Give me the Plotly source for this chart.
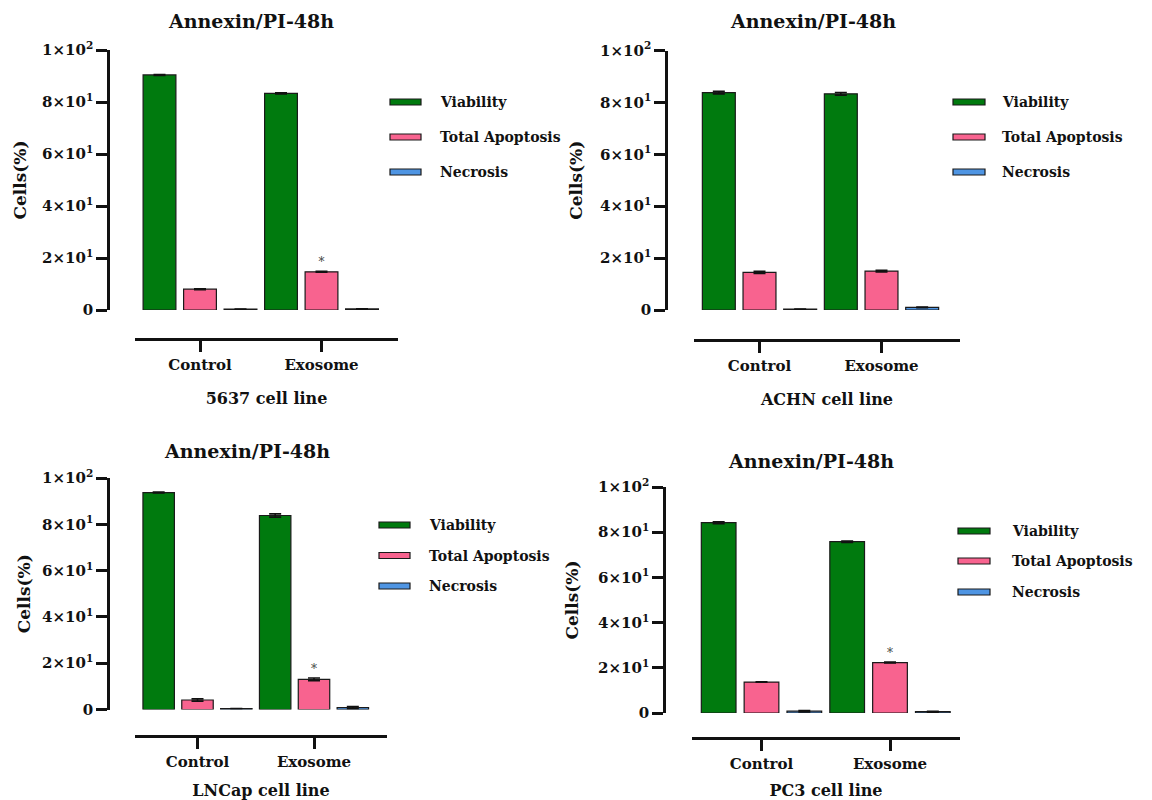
import plotly.graph_objects as go

W, H = 1152, 800

# ---- data -------------------------------------------------------------
groups = ["Control", "Exosome"]
series_names = ["Viability", "Total Apoptosis", "Necrosis"]
series_colors = ["#007A0E", "#F8638F", "#4F95E3"]
panel_title = "Annexin/PI-48h"
y_title = "Cells(%)"
cell_lines = ["5637 cell line", "ACHN cell line", "LNCap cell line", "PC3 cell line"]

# mean % of cells per group: [Control, Exosome]
viability_5637 = [90.4, 83.3]
apoptosis_5637 = [8.0, 14.7]
necrosis_5637 = [0.3, 0.4]

viability_achn = [83.8, 83.3]
apoptosis_achn = [14.5, 15.0]
necrosis_achn = [0.3, 1.0]

viability_lncap = [93.7, 83.8]
apoptosis_lncap = [4.1, 13.0]
necrosis_lncap = [0.4, 0.8]

viability_pc3 = [84.2, 75.8]
apoptosis_pc3 = [13.7, 22.3]
necrosis_pc3 = [0.8, 0.6]

# standard errors
viability_err_5637 = [0.2, 0.2]
apoptosis_err_5637 = [0.2, 0.2]
necrosis_err_5637 = [0.05, 0.1]

viability_err_achn = [0.5, 0.5]
apoptosis_err_achn = [0.4, 0.3]
necrosis_err_achn = [0.05, 0.15]

viability_err_lncap = [0.2, 0.7]
apoptosis_err_lncap = [0.5, 0.6]
necrosis_err_lncap = [0.05, 0.5]

viability_err_pc3 = [0.4, 0.3]
apoptosis_err_pc3 = [0.1, 0.2]
necrosis_err_pc3 = [0.3, 0.2]

# significance marks on the apoptosis bars
signif_5637 = ["", "*"]
signif_achn = ["", ""]
signif_lncap = ["", "*"]
signif_pc3 = ["", "*"]

y_tickvals = [0, 20, 40, 60, 80, 100]
y_ticktext = ["0", "2×10<sup>1</sup>", "4×10<sup>1</sup>", "6×10<sup>1</sup>",
              "8×10<sup>1</sup>", "1×10<sup>2</sup>"]

panel_values = [
    (viability_5637, apoptosis_5637, necrosis_5637),
    (viability_achn, apoptosis_achn, necrosis_achn),
    (viability_lncap, apoptosis_lncap, necrosis_lncap),
    (viability_pc3, apoptosis_pc3, necrosis_pc3),
]
panel_errors = [
    (viability_err_5637, apoptosis_err_5637, necrosis_err_5637),
    (viability_err_achn, apoptosis_err_achn, necrosis_err_achn),
    (viability_err_lncap, apoptosis_err_lncap, necrosis_err_lncap),
    (viability_err_pc3, apoptosis_err_pc3, necrosis_err_pc3),
]
panel_signif = [signif_5637, signif_achn, signif_lncap, signif_pc3]

# ---- layout geometry (pixels) -----------------------------------------
# yx: y-axis line x; y0/y100: pixel rows of 0 and 100; xl: x-axis line row;
# xa/xb: x-axis line extent; c0/c1: pixel x of the two group centres
geom = [
    dict(yx=108, y0=310, y100=50, xl=339, xa=135, xb=398, c0=200, c1=321.5,
         title=(251, 21), leg_sw=(390, 421), leg_tx=438, leg_rows=(102, 137, 172),
         ytitle_standoff=10),
    dict(yx=666, y0=310, y100=50.5, xl=340, xa=694, xb=960, c0=759.5, c1=881.5,
         title=(813, 21), leg_sw=(953, 985), leg_tx=1000, leg_rows=(102, 137, 172),
         ytitle_standoff=12),
    dict(yx=108, y0=709.5, y100=478, xl=736, xa=135, xb=387, c0=197.5, c1=314,
         title=(247, 451), leg_sw=(379, 410), leg_tx=427, leg_rows=(525, 555.5, 586),
         ytitle_standoff=6),
    dict(yx=664, y0=713, y100=487, xl=738, xa=692, xb=960, c0=761.5, c1=890,
         title=(811, 461), leg_sw=(958, 990), leg_tx=1010, leg_rows=(531, 561, 592),
         ytitle_standoff=14),
]

FONT = "DejaVu Serif"
INK = "#111111"


def fx(px):
    return px / W


def fy(py):
    return 1 - py / H


def bold(t):
    return f"<b>{t}</b>"


fig = go.Figure()
annotations = []
shapes = []

for k, (vals, errs, sig, g, line_name) in enumerate(
        zip(panel_values, panel_errors, panel_signif, geom, cell_lines), start=1):
    xref = "x" if k == 1 else f"x{k}"
    yref = "y" if k == 1 else f"y{k}"
    for s, (name, color) in enumerate(zip(series_names, series_colors)):
        fig.add_trace(go.Bar(
            x=groups, y=vals[s], name=name,
            xaxis=xref, yaxis=yref, showlegend=False,
            marker=dict(color=color, line=dict(color="#1a1a1a", width=1.2)),
            error_y=dict(type="data", array=errs[s], visible=True,
                         color=INK, thickness=1.6, width=6),
            text=sig if s == 1 else None,
            textposition="outside" if s == 1 else "none",
            textangle=0,
            textfont=dict(family=FONT, size=12, color="#444444"),
            cliponaxis=False,
        ))

    span = g["c1"] - g["c0"]
    xr = [(g["xa"] - g["c0"]) / span, (g["xb"] - g["c0"]) / span]
    xkey = "xaxis" if k == 1 else f"xaxis{k}"
    ykey = "yaxis" if k == 1 else f"yaxis{k}"
    fig.update_layout(**{
        xkey: dict(
            domain=[fx(g["xa"]), fx(g["xb"])], anchor="free", position=fy(g["xl"]),
            range=xr, type="category", showline=True, linewidth=3, linecolor=INK,
            ticks="outside", ticklen=11, tickwidth=2.5, tickcolor=INK,
            tickvals=groups, ticktext=[bold(t) for t in groups],
            tickfont=dict(family=FONT, size=15, color=INK),
            title=dict(text=bold(line_name), standoff=19,
                       font=dict(family=FONT, size=16, color=INK)),
            showgrid=False, zeroline=False, automargin=False, fixedrange=True,
        ),
        ykey: dict(
            domain=[fy(g["y0"]), fy(g["y100"])], anchor="free", position=fx(g["yx"]),
            range=[0, 100], tickvals=y_tickvals, ticktext=[bold(t) for t in y_ticktext],
            showline=True, linewidth=2.5, linecolor=INK,
            ticks="outside", ticklen=11, tickwidth=2.5, tickcolor=INK,
            tickfont=dict(family=FONT, size=15, color=INK),
            title=dict(text=bold(y_title), standoff=g["ytitle_standoff"],
                       font=dict(family=FONT, size=17, color=INK)),
            showgrid=False, zeroline=False, automargin=False, fixedrange=True,
        ),
    })

    annotations.append(dict(
        text=bold(panel_title), x=fx(g["title"][0]), y=fy(g["title"][1]),
        xref="paper", yref="paper", showarrow=False, xanchor="center", yanchor="middle",
        font=dict(family=FONT, size=19, color=INK),
    ))

    # legend: thin bordered swatch + label per series
    for name, color, row in zip(series_names, series_colors, g["leg_rows"]):
        shapes.append(dict(
            type="rect", xref="paper", yref="paper",
            x0=fx(g["leg_sw"][0]), x1=fx(g["leg_sw"][1]),
            y0=fy(row + 3), y1=fy(row - 3),
            fillcolor=color, line=dict(color="#1a1a1a", width=1.2),
        ))
        annotations.append(dict(
            text=bold(name), x=fx(g["leg_tx"]), y=fy(row), xref="paper", yref="paper",
            showarrow=False, xanchor="left", yanchor="middle",
            font=dict(family=FONT, size=14, color=INK),
        ))

fig.update_layout(
    template="none",
    width=W, height=H, autosize=False,
    margin=dict(l=0, r=0, t=0, b=0),
    paper_bgcolor="white", plot_bgcolor="rgba(0,0,0,0)",
    barmode="group", bargap=0.0, bargroupgap=0.19,
    font=dict(family=FONT, color=INK, size=15),
    annotations=annotations, shapes=shapes,
    showlegend=False,
)

fig.write_html("out.html")
